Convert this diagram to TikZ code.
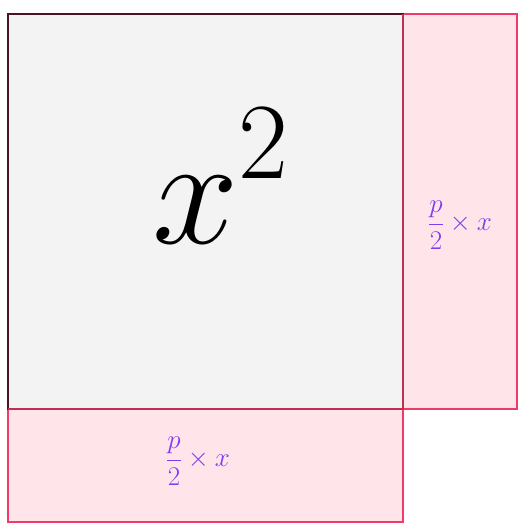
\documentclass[tikz,border=0pt]{standalone}
\usepackage{fix-cm}
\usepackage{tikz}
\usetikzlibrary{positioning,calc}

\definecolor{sqfill}{HTML}{F3F3F3}
\definecolor{sqline}{HTML}{4A1424}
\definecolor{pkfill}{HTML}{FFE4EA}
\definecolor{pkline}{HTML}{F03A68}
\definecolor{lbl}{HTML}{7F3CF0}

\newcommand{\strip}{\fontsize{27}{32}\selectfont$\displaystyle\frac{p}{2}\times x$}

\tikzset{
  pinkbox/.style={fill=pkfill, draw=pkline, line width=1.6pt},
  squarebox/.style={fill=sqfill, draw=sqline, line width=1.6pt},
  arealbl/.style={text=lbl, inner sep=0pt}
}

\begin{document}
\begin{tikzpicture}[x=1pt,y=-1pt]
  \useasboundingbox (0,0) rectangle (522,524);
  % the two p/2 strips
  \draw[pinkbox] (403,14) rectangle (517,409);
  \draw[pinkbox] (8,409) rectangle (403,522);
  % the big square
  \draw[squarebox] (8,14) rectangle (403,409);
  \draw[draw=pkline!70!sqline, line width=1.6pt] (8,409) -- (403,409) -- (403,14);

  \node[inner sep=0pt] (sq) at (221,176)
    {\fontsize{155}{155}\selectfont$x^{\raisebox{9pt}{$\scriptstyle 2$}}$};
  \node[arealbl] (rt) at (460,225) {\strip};
  \node[arealbl] (bt) at (198,461) {\strip};
\end{tikzpicture}
\end{document}
